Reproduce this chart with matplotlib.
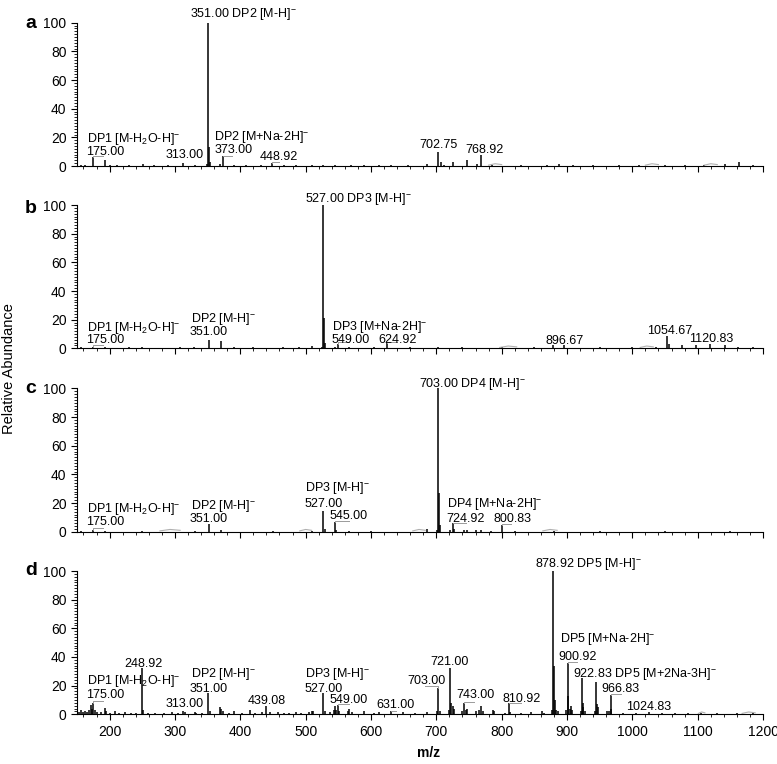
import matplotlib
matplotlib.use("Agg")
import matplotlib.pyplot as plt
from matplotlib.ticker import MultipleLocator

plt.rcParams['font.family'] = ['Liberation Sans', 'DejaVu Sans']
plt.rcParams['mathtext.fontset'] = 'custom'
plt.rcParams['mathtext.rm'] = 'Liberation Sans'

# ---- panel a : peaks (m/z, relative abundance) ----
a_mz = [156, 163, 175, 193, 200, 211, 230, 251, 268, 289, 313, 331, 349, 351, 352, 353,
        369, 373, 391, 409, 431, 449, 467, 485, 509, 527, 545, 569, 589, 612, 631, 656,
        685, 702.75, 707, 712, 725, 746.5, 762, 768.92, 786, 830, 869, 888, 909, 940,
        980, 1010, 1050, 1080, 1110, 1142, 1164, 1185]
a_int = [1, 0.8, 6.3, 4.2, 1, 0.8, 0.8, 1.5, 0.8, 0.8, 2.3, 1, 1.5, 100, 13, 3,
         1.5, 6.7, 0.8, 0.8, 0.8, 2, 0.8, 0.8, 0.8, 1, 0.8, 0.8, 0.8, 0.8, 0.8, 0.8,
         1.5, 9.7, 3, 1, 2.5, 4, 1.5, 8, 1, 0.8, 0.8, 1.5, 1, 0.8,
         0.8, 0.8, 0.8, 0.8, 0.8, 1.5, 2.5, 0.8]
a_lab = ["351.00 DP2 [M-H]$^\\mathregular{-}$", "DP1 [M-H$_\\mathregular{2}$O-H]$^\\mathregular{-}$",
         "175.00", "313.00", "DP2 [M+Na-2H]$^\\mathregular{-}$", "373.00", "448.92",
         "702.75", "768.92"]
a_lab_x = [323, 166, 164, 286, 360, 360, 430, 674, 745]
a_lab_y = [104, 17, 7.6, 5.3, 18, 9.3, 4.2, 12.7, 9.3]
a_lead = [(175, 6.3, 6.8, 190), (373, 6.7, 7.2, 388), (449, 2, 2.5, 460)]
a_ghost = [(780, 800), (1020, 1040), (1110, 1130)]

# ---- panel b ----
b_mz = [156, 175, 193, 230, 250, 307, 329, 352, 370, 390, 420, 466, 490, 509, 525, 527,
        528, 529, 545, 549, 567, 605, 625, 660, 703, 740, 800, 850, 879, 896, 950, 1000,
        1036, 1053, 1056, 1076, 1097, 1119, 1142, 1162, 1185]
b_int = [0.8, 1, 0.8, 0.6, 0.6, 1, 0.8, 5.8, 4.9, 0.6, 0.6, 1, 0.8, 1.5, 1.2, 100,
         21, 4, 1.2, 3, 0.8, 0.8, 4, 0.6, 0.8, 0.6, 0.6, 0.6, 2, 2, 0.6, 0.6,
         1, 8.6, 3, 2, 2.5, 3, 2, 1, 0.8]
b_lab = ["DP1 [M-H$_\\mathregular{2}$O-H]$^\\mathregular{-}$", "175.00", "DP2 [M-H]$^\\mathregular{-}$",
         "351.00", "527.00 DP3 [M-H]$^\\mathregular{-}$", "DP3 [M+Na-2H]$^\\mathregular{-}$",
         "549.00", "624.92", "896.67", "1054.67", "1120.83"]
b_lab_x = [166, 164, 324.5, 323, 499, 540, 540, 611, 867, 1022, 1087]
b_lab_y = [12.3, 3.5, 18.6, 9.3, 102.3, 12.8, 3.5, 3.5, 3, 10, 4.2]
b_lead = [(175, 1, 2.5, 190), (549, 3, 4.5, 566), (625, 4, 4.5, 640)]
b_ghost = [(797, 823), (1012, 1032)]

# ---- panel c ----
c_mz = [156, 175, 193, 250, 330, 352, 370, 450, 509, 527, 529, 545, 547, 567, 600, 685,
        701, 703, 704, 705, 721, 725, 727, 743, 747, 761, 769, 784, 801, 820, 880, 950,
        1050, 1150]
c_int = [0.6, 1, 0.6, 0.5, 0.5, 5.3, 1, 0.5, 0.8, 14.7, 2, 7, 1.5, 0.8, 0.5, 2,
         1.5, 100, 27, 5, 1.5, 5.8, 2, 1, 1.5, 1, 1.5, 0.8, 4.9, 0.5, 0.5, 0.4,
         0.4, 0.4]
c_lab = ["DP1 [M-H$_\\mathregular{2}$O-H]$^\\mathregular{-}$", "175.00", "DP2 [M-H]$^\\mathregular{-}$",
         "351.00", "DP3 [M-H]$^\\mathregular{-}$", "527.00", "545.00",
         "703.00 DP4 [M-H]$^\\mathregular{-}$", "DP4 [M+Na-2H]$^\\mathregular{-}$", "724.92", "800.83"]
c_lab_x = [166, 164, 324.5, 323, 499, 499, 536, 674, 716, 716, 787]
c_lab_y = [14, 4.7, 15.8, 7, 28.6, 17.4, 8.6, 101.2, 17, 6.5, 6.5]
c_lead = [(175, 1, 2.5, 190), (545, 7, 7.5, 566), (725, 5.8, 6.2, 745), (801, 4.9, 5.5, 815)]
c_ghost = [(277, 308), (491, 509), (664, 683), (863, 885)]

# ---- panel d ----
d_mz = [153, 156, 160, 163, 166, 169, 171, 173, 175, 177, 181, 187, 193, 195, 201, 209,
        215, 223, 232, 241, 249, 251, 259, 269, 283, 295, 305, 313, 315, 331, 333, 341,
        351, 353, 369, 371, 373, 383, 391, 403, 415, 423, 433, 439, 445, 457, 467, 475,
        485, 493, 505, 509, 511, 527, 529, 537, 543, 545, 547, 549, 551, 565, 567, 571,
        589, 605, 613, 631, 649, 667, 685, 701, 703, 705, 719, 721, 723, 725, 727, 739,
        743, 745, 747, 761, 765, 769, 771, 787, 789, 805, 811, 813, 829, 845, 861, 865,
        877, 878.92, 880, 881, 883, 887, 899, 900.92, 902, 904, 906, 908, 921, 922.83, 924, 925,
        927, 943, 945, 946, 947, 961, 965, 966.83, 968, 985, 1005, 1025, 1045, 1065, 1085, 1105,
        1130, 1160, 1185]
d_int = [1.5, 3, 1.5, 2, 1.5, 3, 6.5, 4, 8, 3, 1.5, 1.5, 4.2, 2, 1, 2.5,
         1, 1.5, 1, 1, 32, 3, 1, 1, 1, 1.5, 1, 2.3, 1.5, 1.5, 1, 1,
         14.7, 2.5, 5.3, 3.5, 2, 1, 2.5, 1, 3, 1, 1.5, 5.8, 1.5, 1.5, 1, 1,
         1.5, 1, 1.5, 2.5, 2, 15, 2.5, 1.5, 3, 6, 3, 6.5, 2, 2, 3.5, 1.5,
         2, 1, 1.5, 2, 1.5, 1, 1.5, 2, 18.6, 2.5, 3, 32, 8, 6, 4, 2,
         8, 3, 4, 2, 3, 6, 2, 3, 2, 1, 7.7, 1.5, 1, 1.5, 2, 1,
         3, 100, 34, 10, 3, 2, 3, 36, 12.8, 4, 6, 3, 2, 25, 8, 5,
         2, 2, 22.8, 7, 5, 2, 2, 13.5, 4, 1, 1, 1.5, 0.8, 0.8, 0.8, 0.8,
         0.6, 0.6, 0.6]
d_lab = ["DP1 [M-H$_\\mathregular{2}$O-H]$^\\mathregular{-}$", "175.00", "248.92", "313.00",
         "DP2 [M-H]$^\\mathregular{-}$", "351.00", "439.08", "DP3 [M-H]$^\\mathregular{-}$", "527.00",
         "549.00", "631.00", "703.00", "721.00", "743.00", "810.92",
         "878.92 DP5 [M-H]$^\\mathregular{-}$", "DP5 [M+Na-2H]$^\\mathregular{-}$", "900.92",
         "922.83 DP5 [M+2Na-3H]$^\\mathregular{-}$", "966.83", "1024.83"]
d_lab_x = [166, 164, 222, 286, 324.5, 323, 411, 499, 499, 536, 608, 656, 691, 730, 801,
           851, 889, 887, 909, 953, 991]
d_lab_y = [21.1, 11.2, 33.2, 4.9, 25.8, 15.8, 7.2, 25.8, 15.8, 8.1, 4.6, 21.1, 34.4, 11.2, 8.8,
           103, 50.7, 37.9, 26.2, 15.8, 3]
d_lead = [(175, 8, 9, 190), (549, 6.5, 7.5, 566), (631, 2, 2.5, 639), (703, 18.6, 19.5, 683),
          (743, 8, 8.5, 757), (811, 7.7, 8.2, 830), (900.92, 36, 36.5, 916), (966.83, 13.5, 14, 982)]
d_ghost = [(1101, 1111), (1168, 1188)]

panels = [
    ("a", a_mz, a_int, a_lab, a_lab_x, a_lab_y, a_lead, a_ghost, 0.7827, 0.963),
    ("b", b_mz, b_int, b_lab, b_lab_x, b_lab_y, b_lead, b_ghost, 0.5441, 0.721),
    ("c", c_mz, c_int, c_lab, c_lab_x, c_lab_y, c_lead, c_ghost, 0.3040, 0.486),
    ("d", d_mz, d_int, d_lab, d_lab_x, d_lab_y, d_lead, d_ghost, 0.0651, 0.247),
]

fig = plt.figure(figsize=(7.77, 7.64), dpi=100)

for letter, mz, inten, lab, lx, ly, leads, ghosts, bottom, ypos in panels:
    ax = fig.add_axes([0.099, bottom, 0.883, 0.1875])
    ax.vlines(mz, 0, inten, color="black", lw=1.1)
    # leader lines to the labels
    for x0, y0, y1, x1 in leads:
        ax.plot([x0, x0, x1], [y0, y1, y1], color="#9a9a9a", lw=0.7)
    for x0, x1 in ghosts:
        ax.plot([x0, (x0 + x1) / 2, x1], [0.6, 1.6, 1.0], color="#b0b0b0", lw=0.8)
    for t, x, y in zip(lab, lx, ly):
        ax.text(x, y, t, fontsize=9, ha="left", va="baseline", clip_on=False)

    ax.set_xlim(150, 1200)
    ax.set_ylim(0, 100)
    ax.spines["top"].set_visible(False)
    ax.spines["right"].set_visible(False)
    ax.xaxis.set_major_locator(MultipleLocator(100))
    ax.xaxis.set_minor_locator(MultipleLocator(20))
    ax.yaxis.set_major_locator(MultipleLocator(20))
    ax.yaxis.set_minor_locator(MultipleLocator(2))
    ax.tick_params(which="major", direction="out", length=4, width=0.8, labelsize=10)
    ax.tick_params(which="minor", direction="out", length=2.2, width=0.6)
    if letter != "d":
        ax.tick_params(axis="x", labelbottom=False)
    fig.text(0.040, ypos, letter, fontsize=14, fontweight="bold", ha="center", va="baseline")

fig.text(0.011, 0.518, "Relative Abundance", rotation=90, fontsize=10.5, ha="center", va="center")
fig.text(0.551, 0.0144, "m/z", fontsize=10, fontweight="bold", ha="center", va="center")

fig.savefig("out.png", dpi=100)
